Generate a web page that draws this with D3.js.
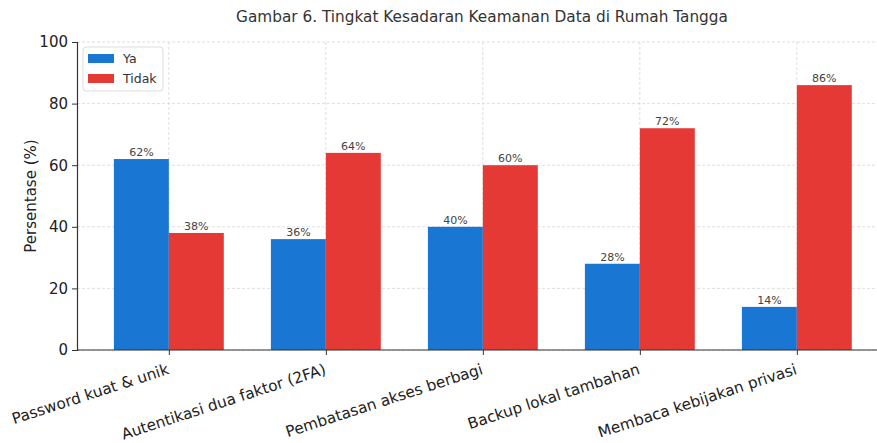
<!DOCTYPE html>
<html>
<head>
<meta charset="utf-8">
<script src="https://cdn.jsdelivr.net/npm/d3@7"></script>
<style>
  body { margin: 0; background: #fff; }
  svg text { font-family: "DejaVu Sans", sans-serif; }
</style>
</head>
<body>
<div id="chart"></div>
<script>
const categories = ["Password kuat & unik", "Autentikasi dua faktor (2FA)", "Pembatasan akses berbagi", "Backup lokal tambahan", "Membaca kebijakan privasi"];
const ya = [62, 36, 40, 28, 14];
const tidak = [38, 64, 60, 72, 86];
const seriesNames = ["Ya", "Tidak"];
const yTicks = [0, 20, 40, 60, 80, 100];

const width = 877, height = 443;
const margin = { top: 42, right: 0, bottom: 93, left: 77 };
const colors = { Ya: "#1976d2", Tidak: "#e53935" };

const svg = d3.select("#chart").append("svg")
    .attr("width", width)
    .attr("height", height);

// index-based x scale like matplotlib, xlim -0.585 .. 4.585
let x = d3.scaleLinear()
    .domain([-0.585, 4.585])
    .range([margin.left, margin.left + 5.17 * 157]);

let y = d3.scaleLinear()
    .domain([0, 100])
    .range([height - margin.bottom, margin.top]);

const barW = 0.35;

// grid
svg.append("g").selectAll("line.h")
    .data(yTicks)
    .enter().append("line")
    .attr("x1", margin.left).attr("x2", width)
    .attr("y1", d => y(d)).attr("y2", d => y(d))
    .attr("stroke", "#d6d6d6").attr("stroke-dasharray", "3,2").attr("stroke-width", 0.8);

svg.append("g").selectAll("line.v")
    .data(categories)
    .enter().append("line")
    .attr("x1", (d, i) => x(i)).attr("x2", (d, i) => x(i))
    .attr("y1", y(0)).attr("y2", y(100))
    .attr("stroke", "#d6d6d6").attr("stroke-dasharray", "3,2").attr("stroke-width", 0.8);

// bars
const series = [
    { name: "Ya", values: ya, off: -barW / 2 },
    { name: "Tidak", values: tidak, off: barW / 2 }
];

series.forEach(s => {
    let g = svg.append("g");
    g.selectAll("rect")
        .data(s.values)
        .enter().append("rect")
        .attr("x", (d, i) => x(i + s.off - barW / 2))
        .attr("width", x(barW) - x(0))
        .attr("y", d => y(d))
        .attr("height", d => y(0) - y(d))
        .attr("fill", colors[s.name]);
    g.selectAll("text")
        .data(s.values)
        .enter().append("text")
        .attr("x", (d, i) => x(i + s.off))
        .attr("y", d => y(d) - 3)
        .attr("text-anchor", "middle")
        .attr("font-size", 11)
        .attr("fill", "#444")
        .text(d => d + "%");
});

// axes
let yAxis = d3.axisLeft(y).tickValues(yTicks).tickSize(5).tickPadding(4);
let gY = svg.append("g")
    .attr("transform", `translate(${margin.left},0)`)
    .call(yAxis);
gY.select(".domain").attr("stroke", "#333").attr("stroke-width", 1.2);
gY.selectAll(".tick line").attr("stroke", "#333");
gY.selectAll(".tick text").attr("font-size", 15).attr("fill", "#222");

let xAxis = d3.axisBottom(x).tickValues(d3.range(categories.length)).tickSize(5).tickFormat(i => categories[i]);
let gX = svg.append("g")
    .attr("transform", `translate(0,${y(0)})`)
    .call(xAxis);
gX.select(".domain").attr("d", `M${margin.left},0H${width}`).attr("stroke", "#333").attr("stroke-width", 1.2);
gX.selectAll(".tick line").attr("stroke", "#333");
gX.selectAll(".tick text")
    .attr("font-size", 15.3)
    .attr("fill", "#222")
    .attr("text-anchor", "end")
    .attr("dy", 0)
    .attr("transform", "translate(-2,16) rotate(-18)");

// y label
svg.append("text")
    .attr("transform", `translate(36,${(y(0) + y(100)) / 2}) rotate(-90)`)
    .attr("text-anchor", "middle")
    .attr("font-size", 15)
    .attr("fill", "#222")
    .text("Persentase (%)");

// title
svg.append("text")
    .attr("x", 482)
    .attr("y", 22)
    .attr("text-anchor", "middle")
    .attr("font-size", 15.3)
    .attr("fill", "#333")
    .text("Gambar 6. Tingkat Kesadaran Keamanan Data di Rumah Tangga");

// legend
let lg = svg.append("g").attr("transform", "translate(83,47)");
lg.append("rect")
    .attr("width", 80).attr("height", 44).attr("rx", 3)
    .attr("fill", "#fff").attr("fill-opacity", 0.8)
    .attr("stroke", "#ddd");
seriesNames.forEach((n, i) => {
    lg.append("rect")
        .attr("x", 5).attr("y", 7 + i * 20)
        .attr("width", 26).attr("height", 9)
        .attr("fill", colors[n]);
    lg.append("text")
        .attr("x", 40).attr("y", 16 + i * 20)
        .attr("font-size", 12.5)
        .attr("fill", "#333")
        .text(n);
});
</script>
</body>
</html>
